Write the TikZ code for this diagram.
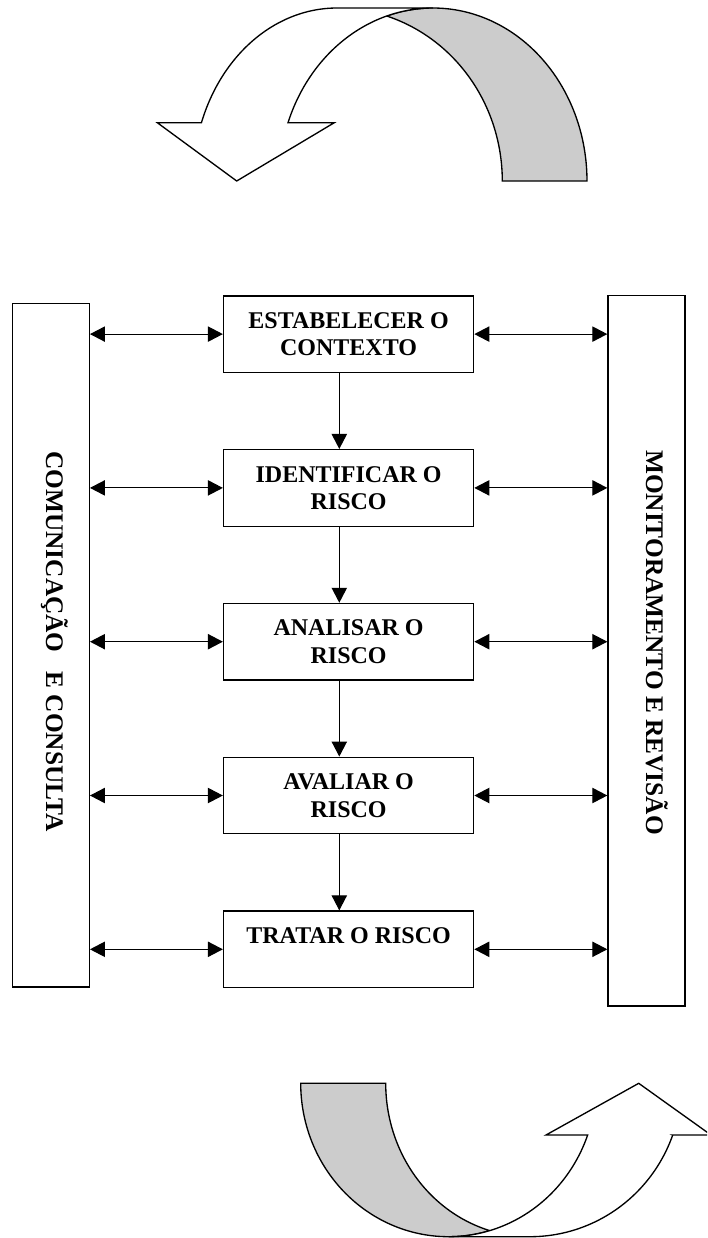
\documentclass[tikz,border=0pt]{standalone}
\usepackage{fontspec}
\setmainfont{Liberation Serif}
\usetikzlibrary{arrows.meta}
\definecolor{ribbongray}{HTML}{CCCCCC}
\begin{document}
\begin{tikzpicture}[x=0.75pt,y=-0.75pt,
  stagebox/.style={draw, line width=1pt, minimum width=187.6pt, minimum height=57.4pt, inner sep=0pt, align=center, font=\fontsize{18}{20.5}\selectfont\bfseries},
  sidebox/.style={draw, line width=1pt, minimum width=57.75pt, inner sep=0pt},
  sidetext/.style={rotate=-90, anchor=base, inner sep=0pt, font=\fontsize{19}{22}\selectfont\bfseries},
  flow/.style={line width=0.85pt, -{Triangle[length=11.25pt,width=11.5pt]}},
  link/.style={line width=0.85pt, {Triangle[length=11.25pt,width=11.5pt]}-{Triangle[length=11.25pt,width=11.5pt]}},
  ribbon/.style={draw, line width=1pt, line join=miter}
]
\useasboundingbox (0,0) rectangle (707,1238);
\clip (0,0) rectangle (707,1238);

% stage boxes
\node[stagebox] (b1) at (348.6,334.1) {ESTABELECER O\\CONTEXTO};
\node[stagebox] (b2) at (348.6,487.9) {IDENTIFICAR O\\RISCO};
\node[stagebox] (b3) at (348.6,641.7) {ANALISAR O\\RISCO};
\node[stagebox] (b4) at (348.6,795.5) {AVALIAR O\\RISCO};
\node[stagebox] (b5) at (348.6,949.3) {TRATAR O RISCO\\\mbox{}};

% side boxes
\node[sidebox, minimum height=512.8pt] (L) at (50.8,645.15) {};
\node[sidebox, minimum height=533pt] (R) at (646.5,650.65) {};
\node[sidetext] (Lt) at (46,641.5) {COMUNICAÇÃO\hspace{0.5em} E CONSULTA};
\node[sidetext] (Rt) at (646,642.5) {MONITORAMENTO E REVISÃO};

% connectors
\coordinate (vx) at (339.3,0);
\foreach \a/\b in {b1/b2,b2/b3,b3/b4,b4/b5}
  \draw[flow] (\a.south -| vx) -- (\b.north -| vx);
\foreach \n in {b1,b2,b3,b4,b5} {
  \draw[link] (L.east |- \n.west) -- (\n.west);
  \draw[link] (\n.east) -- (R.west |- \n.east);
}

% top curved arrow
\draw[ribbon, fill=ribbongray]
  plot[domain=107.5:0, samples=80, variable=\t] ({433+154*cos(\t)},{181-173*sin(\t)})
  -- (502.3,181)
  -- plot[domain=0:72.5, samples=80, variable=\t] ({337+165.3*cos(\t)},{181-173*sin(\t)})
  -- cycle;
\draw[ribbon, fill=white]
  (157.3,122.7) -- (201.4,122.7)
  -- plot[domain=160.3:90, samples=80, variable=\t] ({337+144*cos(\t)},{181-173*sin(\t)})
  -- (433,8)
  -- plot[domain=90:160.3, samples=80, variable=\t] ({433+154*cos(\t)},{181-173*sin(\t)})
  -- (334.3,122.7) -- (236.7,181) -- cycle;

% bottom curved arrow
\draw[ribbon, fill=ribbongray]
  plot[domain=180:73.8, samples=80, variable=\t] ({448.5+147.8*cos(\t)},{1083.3+153.4*sin(\t)})
  -- plot[domain=106.2:180, samples=80, variable=\t] ({530+144.3*cos(\t)},{1083.3+153.4*sin(\t)})
  -- cycle;
\draw[ribbon, fill=white]
  (546,1135) -- (638.7,1083.3) -- (711,1135) -- (672.7,1135)
  -- plot[domain=19.7:90, samples=80, variable=\t] ({530+151.6*cos(\t)},{1083.3+153.4*sin(\t)})
  -- (448.5,1236.7)
  -- plot[domain=90:19.7, samples=80, variable=\t] ({448.5+147.8*cos(\t)},{1083.3+153.4*sin(\t)})
  -- cycle;
\end{tikzpicture}
\end{document}
